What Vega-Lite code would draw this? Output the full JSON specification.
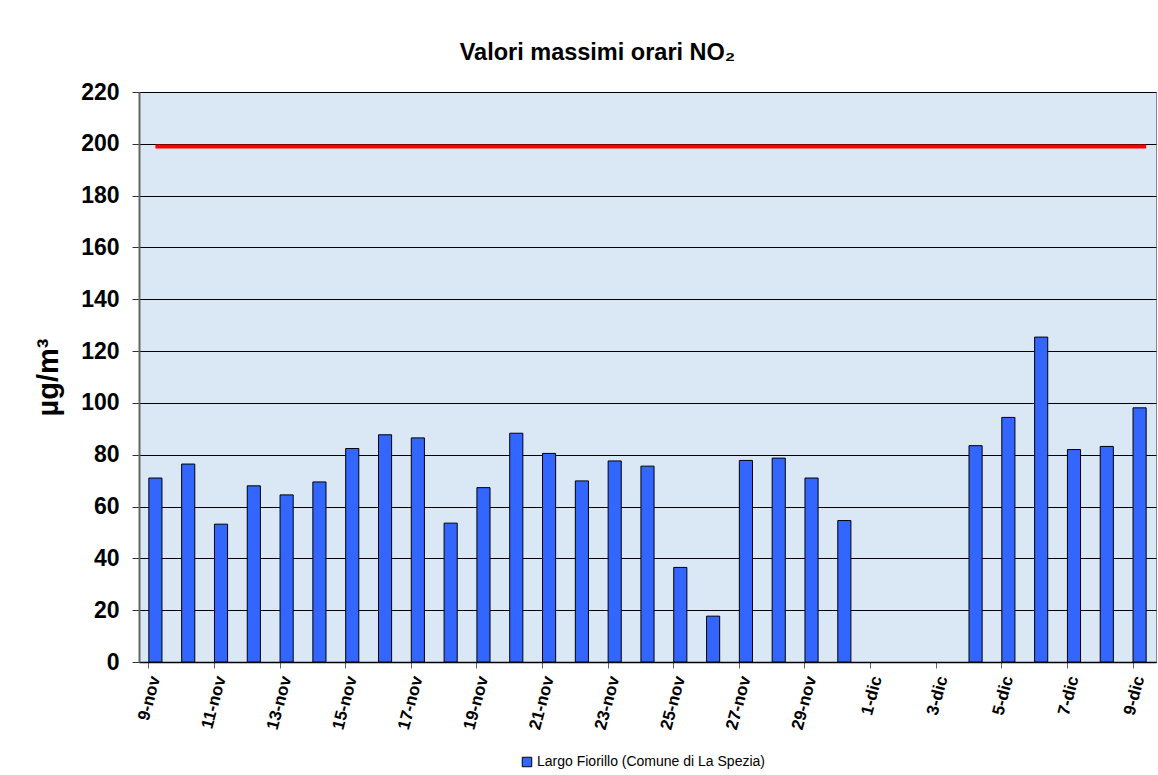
{
  "$schema": "https://vega.github.io/schema/vega-lite/v6.json",
  "autosize": {"type": "none"},
  "width": 1017,
  "height": 570,
  "padding": {"left": 139, "top": 92, "right": 2, "bottom": 113},
  "background": "white",
  "config": {
    "font": "Liberation Sans",
    "view": {"fill": "#dae7f5", "stroke": "#8a8a8a", "strokeWidth": 1}
  },
  "title": {
    "text": "Valori massimi orari NO₂",
    "fontSize": 23.5,
    "fontWeight": "bold",
    "color": "black",
    "anchor": "middle",
    "dx": -50,
    "offset": 17
  },
  "datasets": {
    "bars": [
      {"giorno": "9-nov", "valore": 71.0, "serie": "Largo Fiorillo (Comune di La Spezia)"},
      {"giorno": "10-nov", "valore": 76.4, "serie": "Largo Fiorillo (Comune di La Spezia)"},
      {"giorno": "11-nov", "valore": 53.2, "serie": "Largo Fiorillo (Comune di La Spezia)"},
      {"giorno": "12-nov", "valore": 68.0, "serie": "Largo Fiorillo (Comune di La Spezia)"},
      {"giorno": "13-nov", "valore": 64.5, "serie": "Largo Fiorillo (Comune di La Spezia)"},
      {"giorno": "14-nov", "valore": 69.5, "serie": "Largo Fiorillo (Comune di La Spezia)"},
      {"giorno": "15-nov", "valore": 82.4, "serie": "Largo Fiorillo (Comune di La Spezia)"},
      {"giorno": "16-nov", "valore": 87.7, "serie": "Largo Fiorillo (Comune di La Spezia)"},
      {"giorno": "17-nov", "valore": 86.5, "serie": "Largo Fiorillo (Comune di La Spezia)"},
      {"giorno": "18-nov", "valore": 53.6, "serie": "Largo Fiorillo (Comune di La Spezia)"},
      {"giorno": "19-nov", "valore": 67.3, "serie": "Largo Fiorillo (Comune di La Spezia)"},
      {"giorno": "20-nov", "valore": 88.3, "serie": "Largo Fiorillo (Comune di La Spezia)"},
      {"giorno": "21-nov", "valore": 80.5, "serie": "Largo Fiorillo (Comune di La Spezia)"},
      {"giorno": "22-nov", "valore": 69.9, "serie": "Largo Fiorillo (Comune di La Spezia)"},
      {"giorno": "23-nov", "valore": 77.6, "serie": "Largo Fiorillo (Comune di La Spezia)"},
      {"giorno": "24-nov", "valore": 75.6, "serie": "Largo Fiorillo (Comune di La Spezia)"},
      {"giorno": "25-nov", "valore": 36.5, "serie": "Largo Fiorillo (Comune di La Spezia)"},
      {"giorno": "26-nov", "valore": 17.7, "serie": "Largo Fiorillo (Comune di La Spezia)"},
      {"giorno": "27-nov", "valore": 77.8, "serie": "Largo Fiorillo (Comune di La Spezia)"},
      {"giorno": "28-nov", "valore": 78.7, "serie": "Largo Fiorillo (Comune di La Spezia)"},
      {"giorno": "29-nov", "valore": 71.0, "serie": "Largo Fiorillo (Comune di La Spezia)"},
      {"giorno": "30-nov", "valore": 54.6, "serie": "Largo Fiorillo (Comune di La Spezia)"},
      {"giorno": "4-dic", "valore": 83.5, "serie": "Largo Fiorillo (Comune di La Spezia)"},
      {"giorno": "5-dic", "valore": 94.4, "serie": "Largo Fiorillo (Comune di La Spezia)"},
      {"giorno": "6-dic", "valore": 125.4, "serie": "Largo Fiorillo (Comune di La Spezia)"},
      {"giorno": "7-dic", "valore": 82.0, "serie": "Largo Fiorillo (Comune di La Spezia)"},
      {"giorno": "8-dic", "valore": 83.2, "serie": "Largo Fiorillo (Comune di La Spezia)"},
      {"giorno": "9-dic", "valore": 98.1, "serie": "Largo Fiorillo (Comune di La Spezia)"}
    ],
    "limite": [
      {"inizio": "9-nov", "fine": "9-dic", "valore": 199}
    ]
  },
  "layer": [
    {
      "data": {"name": "bars"},
      "mark": {"type": "bar", "stroke": "black", "strokeWidth": 1},
      "encoding": {
        "x": {
          "field": "giorno",
          "type": "ordinal",
          "scale": {
            "domain": ["9-nov","10-nov","11-nov","12-nov","13-nov","14-nov","15-nov","16-nov","17-nov","18-nov","19-nov","20-nov","21-nov","22-nov","23-nov","24-nov","25-nov","26-nov","27-nov","28-nov","29-nov","30-nov","1-dic","2-dic","3-dic","4-dic","5-dic","6-dic","7-dic","8-dic","9-dic"],
            "paddingInner": 0.6,
            "paddingOuter": 0.3
          },
          "axis": {
            "title": null,
            "values": ["9-nov","11-nov","13-nov","15-nov","17-nov","19-nov","21-nov","23-nov","25-nov","27-nov","29-nov","1-dic","3-dic","5-dic","7-dic","9-dic"],
            "bandPosition": 0,
            "labelOffset": 0,
            "labelAngle": -75,
            "labelAlign": "right",
            "labelBaseline": "middle",
            "labelFontSize": 17,
            "labelFontWeight": "bold",
            "labelColor": "black",
            "labelPadding": 8,
            "tickSize": 6,
            "tickColor": "#666666",
            "domainColor": "black",
            "domainWidth": 1.5,
            "grid": false
          }
        },
        "y": {
          "field": "valore",
          "type": "quantitative",
          "scale": {"domain": [0, 220], "nice": false},
          "axis": {
            "title": "µg/m³",
            "titleFontSize": 29,
            "titleFontWeight": "bold",
            "titleColor": "black",
            "titlePadding": 17,
            "values": [0,20,40,60,80,100,120,140,160,180,200,220],
            "labelFontSize": 23,
            "labelFontWeight": "bold",
            "labelColor": "black",
            "labelPadding": 13,
            "tickSize": 7,
            "tickColor": "#333333",
            "domainColor": "#666666",
            "domainWidth": 2,
            "grid": true,
            "gridColor": "black",
            "gridOpacity": 1,
            "gridWidth": 1
          }
        },
        "color": {
          "field": "serie",
          "type": "nominal",
          "scale": {"range": ["#3366ff"]},
          "legend": {
            "title": null,
            "orient": "none",
            "legendX": 381,
            "legendY": 663,
            "symbolType": "square",
            "symbolSize": 90,
            "symbolStrokeColor": "black",
            "symbolStrokeWidth": 1,
            "symbolOpacity": 1,
            "labelFontSize": 14,
            "labelColor": "black",
            "labelOffset": 3,
            "labelLimit": 0
          }
        }
      }
    },
    {
      "data": {"name": "limite"},
      "mark": {"type": "rule", "color": "#ff0000", "strokeWidth": 4},
      "encoding": {
        "x": {"field": "inizio", "type": "ordinal", "bandPosition": 0.5},
        "x2": {"field": "fine", "bandPosition": 1},
        "y": {"field": "valore", "type": "quantitative"}
      }
    }
  ]
}
